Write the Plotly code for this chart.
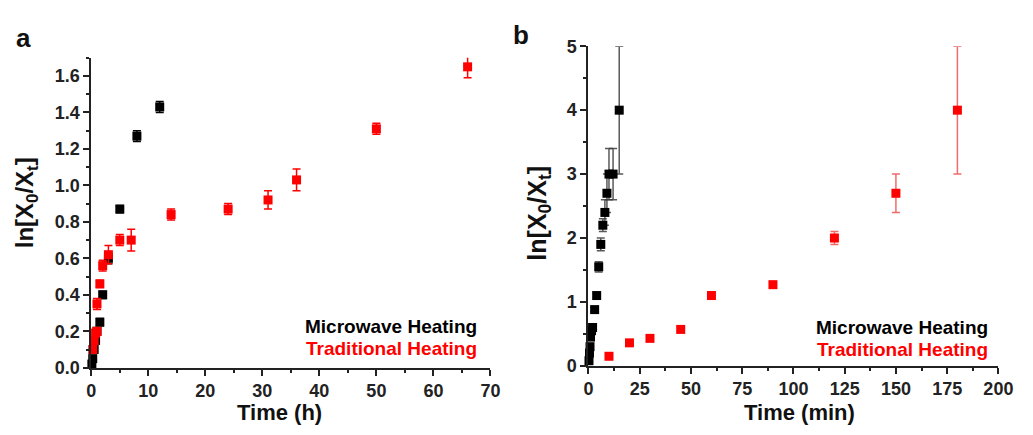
import plotly.graph_objects as go

# Panel a (hours)
mw_a_t = [0.1, 0.25, 0.5, 0.75, 1.0, 1.5, 2, 3, 5, 8, 12]
mw_a_y = [0.02, 0.05, 0.1, 0.15, 0.2, 0.25, 0.4, 0.6, 0.87, 1.27, 1.43]
mw_a_e = [0.01, 0.01, 0.01, 0.01, 0.01, 0.02, 0.02, 0.03, 0.02, 0.03, 0.03]
tr_a_t = [0.25, 0.5, 0.75, 1.0, 1.0, 1.5, 2, 3, 5, 7, 14, 24, 31, 36, 50, 66]
tr_a_y = [0.1, 0.15, 0.19, 0.2, 0.35, 0.46, 0.56, 0.62, 0.7, 0.7, 0.84, 0.87, 0.92, 1.03, 1.31, 1.65]
tr_a_e = [0.02, 0.02, 0.02, 0.02, 0.03, 0.02, 0.03, 0.05, 0.03, 0.06, 0.03, 0.03, 0.05, 0.06, 0.03, 0.06]

# Panel b (minutes)
mw_b_t = [0.25, 0.5, 0.75, 1, 1.5, 2, 3, 4, 5, 6, 7, 8, 9, 10, 12, 15]
mw_b_y = [0.08, 0.2, 0.3, 0.45, 0.55, 0.6, 0.88, 1.1, 1.55, 1.9, 2.2, 2.4, 2.7, 3.0, 3.0, 4.0]
mw_b_e = [0.02, 0.02, 0.02, 0.03, 0.03, 0.03, 0.03, 0.04, 0.08, 0.1, 0.1, 0.2, 0.3, 0.4, 0.4, 1.0]
tr_b_t = [10, 20, 30, 45, 60, 90, 120, 150, 180]
tr_b_y = [0.15, 0.36, 0.43, 0.57, 1.1, 1.27, 2.0, 2.7, 4.0]
tr_b_e = [0.02, 0.02, 0.03, 0.04, 0.06, 0.03, 0.1, 0.3, 1.0]

FONT = "Liberation Sans"
BLACK = "#000000"
RED = "#FF0000"

fig = go.Figure()

def add(x, y, e, color, ecolor, xa, ya):
    fig.add_trace(go.Scatter(
        x=x, y=y, mode="markers", xaxis=xa, yaxis=ya, cliponaxis=False,
        marker=dict(symbol="square", size=9, color=color),
        error_y=dict(type="data", array=e, visible=True, color=ecolor, thickness=1.5, width=4),
        showlegend=False))

add(mw_a_t, mw_a_y, mw_a_e, BLACK, BLACK, "x", "y")
add(tr_a_t, tr_a_y, tr_a_e, RED, RED, "x", "y")
add(mw_b_t, mw_b_y, mw_b_e, BLACK, "rgba(60,60,60,0.85)", "x2", "y2")
add(tr_b_t, tr_b_y, tr_b_e, RED, "rgba(240,80,80,0.85)", "x2", "y2")

W, H = 1033, 435
def px_x(p): return p / W
def px_y(p): return (H - p) / H

tickfont = dict(family=FONT, size=18, color="#222", weight="bold")
axis_common = dict(showline=True, linecolor="#222", linewidth=2, ticks="outside",
                   ticklen=6, tickwidth=1.5, tickcolor="#222", showgrid=False,
                   zeroline=False, tickfont=tickfont, mirror=False)

ytitle = "ln[X<sub>0</sub>/X<sub>t</sub>]"

fig.update_layout(
    width=W, height=H, margin=dict(l=0, r=0, t=0, b=0),
    plot_bgcolor="white", paper_bgcolor="white",
    xaxis=dict(domain=[px_x(88), px_x(495)], range=[0, 70], dtick=10, anchor="y",
               minor=dict(ticks="outside", ticklen=3, dtick=5, tickcolor="#222"),
               **axis_common),
    yaxis=dict(domain=[px_y(375), px_y(50)], range=[0, 1.7], dtick=0.2, tickformat=".1f",
               anchor="x",
               minor=dict(ticks="outside", ticklen=3, dtick=0.1, tickcolor="#222"),
               **axis_common),
    xaxis2=dict(domain=[px_x(595), px_x(1013)], range=[0, 200], dtick=25, anchor="y2",
                minor=dict(ticks="outside", ticklen=3, dtick=12.5, tickcolor="#222"),
                **axis_common),
    yaxis2=dict(domain=[px_y(373), px_y(38)], range=[0, 5], dtick=1, anchor="x2",
                minor=dict(ticks="outside", ticklen=3, dtick=0.5, tickcolor="#222"),
                **axis_common),
)

def txt(text, x, y, size, color="#111", angle=0, xanchor="center"):
    return dict(text=text, x=px_x(x), y=px_y(y), xref="paper", yref="paper",
                xanchor=xanchor, yanchor="middle", showarrow=False, textangle=angle,
                font=dict(family=FONT, size=size, color=color, weight="bold"))

ann = [
    txt("a", 9, 29, 26, xanchor="left"),
    txt("b", 516, 26, 26, xanchor="left"),
    txt("Time (h)", 280, 422, 22),
    txt("Time (min)", 810, 422, 22),
    txt(ytitle, 22, 202, 24, angle=-90),
    txt(ytitle, 545, 213, 25, angle=-90),
]
for xr, y1, y2 in [(483, 332, 355), (1004, 333, 356)]:
    ann.append(txt("Microwave Heating", xr, y1, 19, color=BLACK, xanchor="right"))
    ann.append(txt("Traditional Heating", xr, y2, 19, color=RED, xanchor="right"))
fig.update_layout(annotations=ann)

fig.write_html("out.html")
